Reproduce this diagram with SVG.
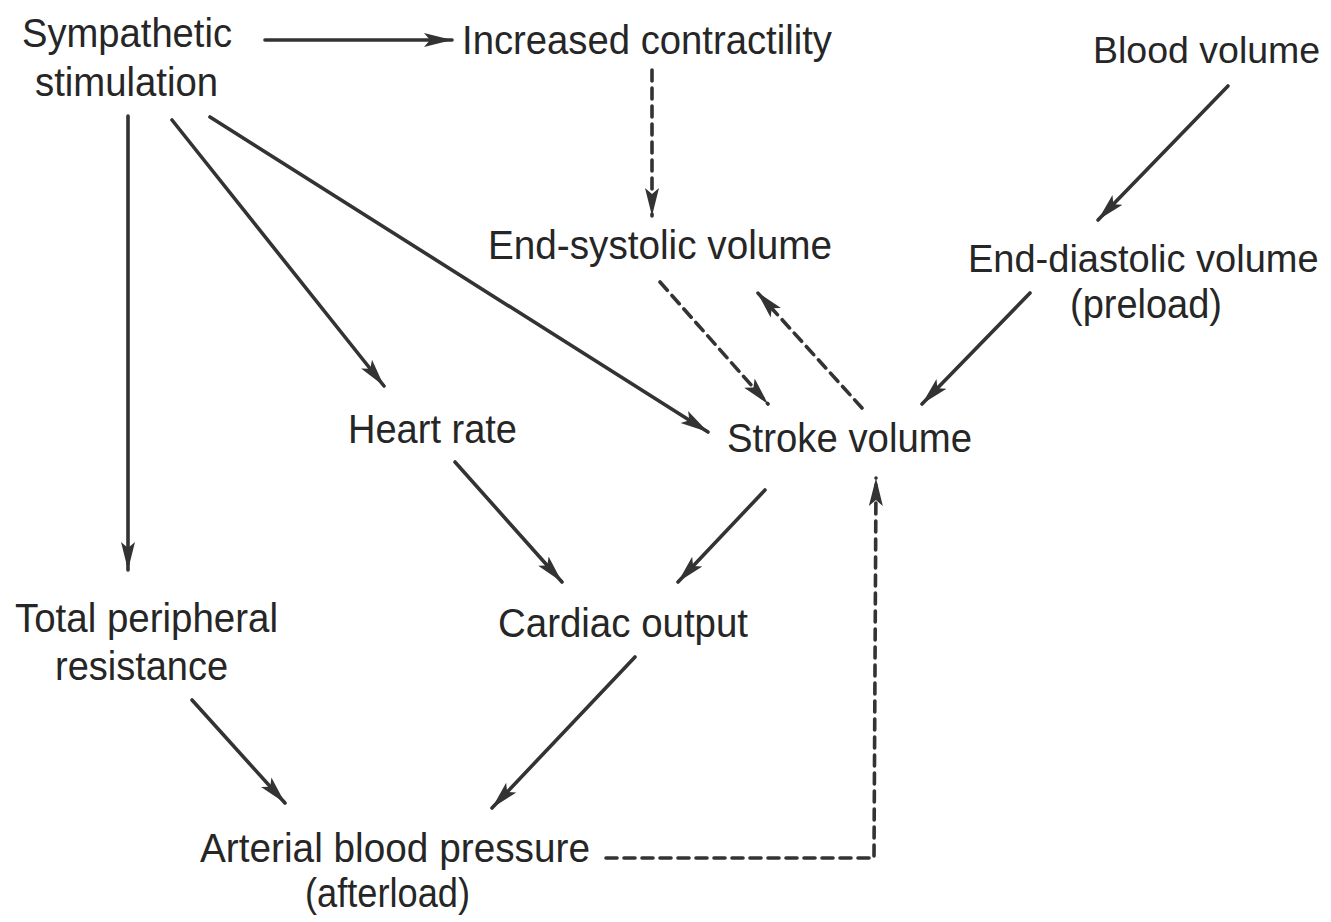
<svg xmlns="http://www.w3.org/2000/svg" width="1331" height="922" viewBox="0 0 1331 922">
<style>
text{font-family:"Liberation Sans",Arial,sans-serif;font-size:40px;fill:#262626}
.c{fill:none;stroke:#333;stroke-width:3.6;stroke-linecap:round}
.d{stroke-dasharray:11 7}
</style>
<defs>
<marker id="ah" markerUnits="userSpaceOnUse" markerWidth="30" markerHeight="16" refX="28" refY="8" orient="auto">
<path d="M0,1 L28,8 L0,15 L6,8 Z" fill="#333"/>
</marker>
</defs>
<rect width="1331" height="922" fill="#fff"/>
<g id="connectors">
<line class="c" x1="265" y1="40" x2="452" y2="40" marker-end="url(#ah)"/>
<line class="c d" x1="652" y1="70" x2="652" y2="216" marker-end="url(#ah)"/>
<line class="c" x1="1228" y1="86" x2="1098" y2="220" marker-end="url(#ah)"/>
<line class="c" x1="128" y1="116" x2="128" y2="570" marker-end="url(#ah)"/>
<line class="c" x1="172" y1="120" x2="384" y2="386" marker-end="url(#ah)"/>
<line class="c" x1="210" y1="117" x2="708" y2="432" marker-end="url(#ah)"/>
<line class="c d" x1="660" y1="282" x2="768" y2="404" marker-end="url(#ah)"/>
<line class="c d" x1="862" y1="408" x2="757" y2="292" marker-end="url(#ah)"/>
<line class="c" x1="1030" y1="293" x2="922" y2="404" marker-end="url(#ah)"/>
<line class="c" x1="455" y1="462" x2="562" y2="582" marker-end="url(#ah)"/>
<line class="c" x1="765" y1="490" x2="678" y2="582" marker-end="url(#ah)"/>
<line class="c" x1="192" y1="700" x2="285" y2="803" marker-end="url(#ah)"/>
<line class="c" x1="635" y1="657" x2="492" y2="808" marker-end="url(#ah)"/>
<polyline class="c d" points="606,858 874,858 876,478" marker-end="url(#ah)"/>
</g>
<g id="sympathetic"><text x="22" y="47" textLength="210" lengthAdjust="spacingAndGlyphs">Sympathetic</text><text x="35" y="96" textLength="183" lengthAdjust="spacingAndGlyphs">stimulation</text></g>
<g id="contractility"><text x="462" y="54" textLength="370" lengthAdjust="spacingAndGlyphs">Increased contractility</text></g>
<g id="blood-volume"><text x="1093" y="63" style="font-size:37.5px">Blood volume</text></g>
<g id="esv"><text x="488" y="259" textLength="344" lengthAdjust="spacingAndGlyphs">End-systolic volume</text></g>
<g id="edv"><text x="968" y="272" style="font-size:38px">End-diastolic volume</text><text x="1070" y="318" textLength="152" lengthAdjust="spacingAndGlyphs">(preload)</text></g>
<g id="heart-rate"><text x="348" y="443" textLength="169" lengthAdjust="spacingAndGlyphs">Heart rate</text></g>
<g id="stroke-volume"><text x="727" y="452" textLength="245" lengthAdjust="spacingAndGlyphs">Stroke volume</text></g>
<g id="tpr"><text x="15" y="632" textLength="263" lengthAdjust="spacingAndGlyphs">Total peripheral</text><text x="55" y="680" textLength="173" lengthAdjust="spacingAndGlyphs">resistance</text></g>
<g id="cardiac-output"><text x="498" y="637" textLength="250" lengthAdjust="spacingAndGlyphs">Cardiac output</text></g>
<g id="abp"><text x="200" y="862" textLength="390" lengthAdjust="spacingAndGlyphs">Arterial blood pressure</text><text x="305" y="907" textLength="165" lengthAdjust="spacingAndGlyphs">(afterload)</text></g>
</svg>
